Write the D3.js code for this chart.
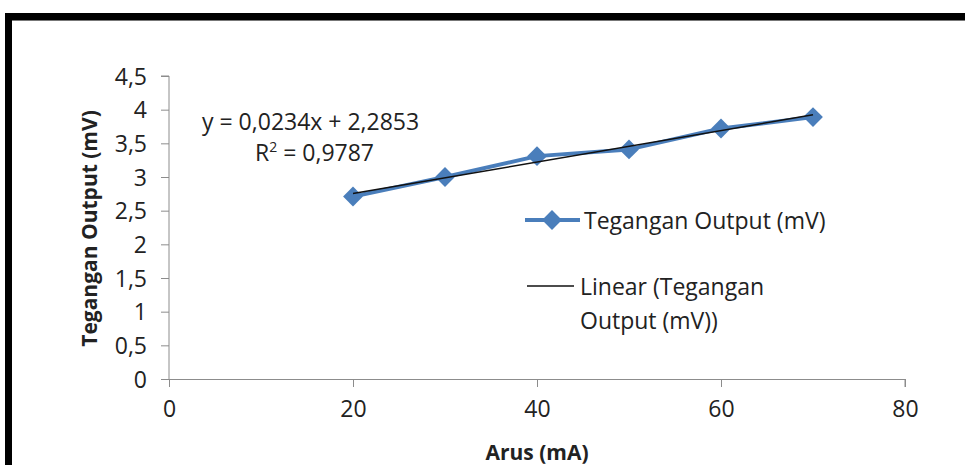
<!DOCTYPE html>
<html>
<head>
<meta charset="utf-8">
<script src="https://cdn.jsdelivr.net/npm/d3@7"></script>
<style>
  html, body { margin: 0; padding: 0; background: #fff; }
  svg { display: block; }
  text { font-family: "Open Sans", "Noto Sans", sans-serif; fill: #222; }
</style>
</head>
<body>
<svg id="chart" width="965" height="465"></svg>
<script>
// Measured current (mA) and output voltage (mV)
const arus = [20, 30, 40, 50, 60, 70];
const tegangan = [2.71, 3.0, 3.31, 3.41, 3.72, 3.89];

// Linear trendline coefficients as printed on the chart
const slope = 0.0234;
const intercept = 2.2853;
const rSquared = "0,9787";

const xTicks = [0, 20, 40, 60, 80];
const yTicks = [0, 0.5, 1, 1.5, 2, 2.5, 3, 3.5, 4, 4.5];

const seriesName = "Tegangan Output (mV)";
const trendName = ["Linear (Tegangan", "Output (mV))"];
const xTitle = "Arus (mA)";
const yTitle = "Tegangan Output (mV)";

const fmt = v => String(v).replace(".", ",");

const svg = d3.select("#chart");
const blue = "#4A7EBB";
const axisGray = "#8c8c8c";
const fs = "23px";

const x = d3.scaleLinear().domain([0, 80]).range([169, 905]);
const y = d3.scaleLinear().domain([0, 4.5]).range([379, 76]);

// Frame: heavy black border on top and left
svg.append("rect").attr("x", 5).attr("y", 13).attr("width", 965).attr("height", 7).attr("fill", "#000");
svg.append("rect").attr("x", 5).attr("y", 13).attr("width", 7).attr("height", 460).attr("fill", "#000");
svg.append("line").attr("x1", 12).attr("x2", 965).attr("y1", 20.5).attr("y2", 20.5)
  .attr("stroke", "#777").attr("stroke-width", 1);

// Y axis
const yAxis = svg.append("g").attr("transform", `translate(${x(0)},0)`)
  .call(d3.axisLeft(y).tickValues(yTicks).tickSize(8).tickPadding(14).tickFormat(fmt));
// X axis
const xAxis = svg.append("g").attr("transform", `translate(0,${y(0)})`)
  .call(d3.axisBottom(x).tickValues(xTicks).tickSize(8).tickPadding(14).tickFormat(fmt));

[yAxis, xAxis].forEach(g => {
  g.select(".domain").attr("stroke", axisGray).attr("stroke-width", 1);
  g.selectAll(".tick line").attr("stroke", axisGray);
  g.selectAll(".tick text").attr("fill", "#222").style("font-size", fs)
    .style("font-family", "'Open Sans', sans-serif");
});
xAxis.select(".domain").attr("d", `M${x(0) - 8},0.5H${x(80)}V8`);
yAxis.select(".domain").attr("d", `M-8,${y(4.5)}H0V${y(0)}`);
yAxis.selectAll(".tick text").attr("dy", "0.36em");
xAxis.selectAll(".tick text").attr("dy", "0.7em");

// Data series
const line = d3.line().x((d, i) => x(arus[i])).y(d => y(d));
svg.append("path").datum(tegangan).attr("d", line)
  .attr("fill", "none").attr("stroke", blue).attr("stroke-width", 4).attr("stroke-linejoin", "round");

const diamond = d3.symbol().type(d3.symbolDiamond2).size(250);
svg.selectAll("path.pt").data(tegangan).join("path").attr("class", "pt")
  .attr("d", diamond)
  .attr("transform", (d, i) => `translate(${x(arus[i])},${y(d)})`)
  .attr("fill", blue);

// Linear trendline from the printed equation
const tx = [d3.min(arus), d3.max(arus)];
svg.append("line")
  .attr("x1", x(tx[0])).attr("y1", y(intercept + slope * tx[0]))
  .attr("x2", x(tx[1])).attr("y2", y(intercept + slope * tx[1]))
  .attr("stroke", "#111").attr("stroke-width", 1.5);

// Equation label
svg.append("text").attr("x", 202).attr("y", 130).style("font-size", fs)
  .text(`y = ${fmt(slope)}x + ${fmt(intercept)}`);
const r2 = svg.append("text").attr("x", 255).attr("y", 161).style("font-size", fs);
r2.append("tspan").text("R");
r2.append("tspan").attr("dy", -9).style("font-size", "14px").text("2");
r2.append("tspan").attr("dy", 9).text(` = ${rSquared}`);

// Legend
const lg = svg.append("g");
lg.append("line").attr("x1", 525).attr("x2", 580).attr("y1", 220).attr("y2", 220)
  .attr("stroke", blue).attr("stroke-width", 4);
lg.append("path").attr("d", diamond).attr("transform", "translate(552,220)").attr("fill", blue);
lg.append("text").attr("x", 584).attr("y", 229).style("font-size", fs).text(seriesName);
lg.append("line").attr("x1", 527).attr("x2", 574).attr("y1", 286).attr("y2", 286)
  .attr("stroke", "#111").attr("stroke-width", 1.5);
lg.append("text").attr("x", 580).attr("y", 295).style("font-size", fs).text(trendName[0]);
lg.append("text").attr("x", 580).attr("y", 329).style("font-size", fs).text(trendName[1]);

// Axis titles
svg.append("text").attr("x", (x(0) + x(80)) / 2).attr("y", 460).attr("text-anchor", "middle")
  .style("font-size", "21px").style("font-weight", "bold").text(xTitle);
svg.append("text").attr("transform", `translate(97,${(y(0) + y(4.5)) / 2 + 1}) rotate(-90)`)
  .attr("text-anchor", "middle").style("font-size", "21px").style("font-weight", "bold").text(yTitle);
</script>
</body>
</html>
